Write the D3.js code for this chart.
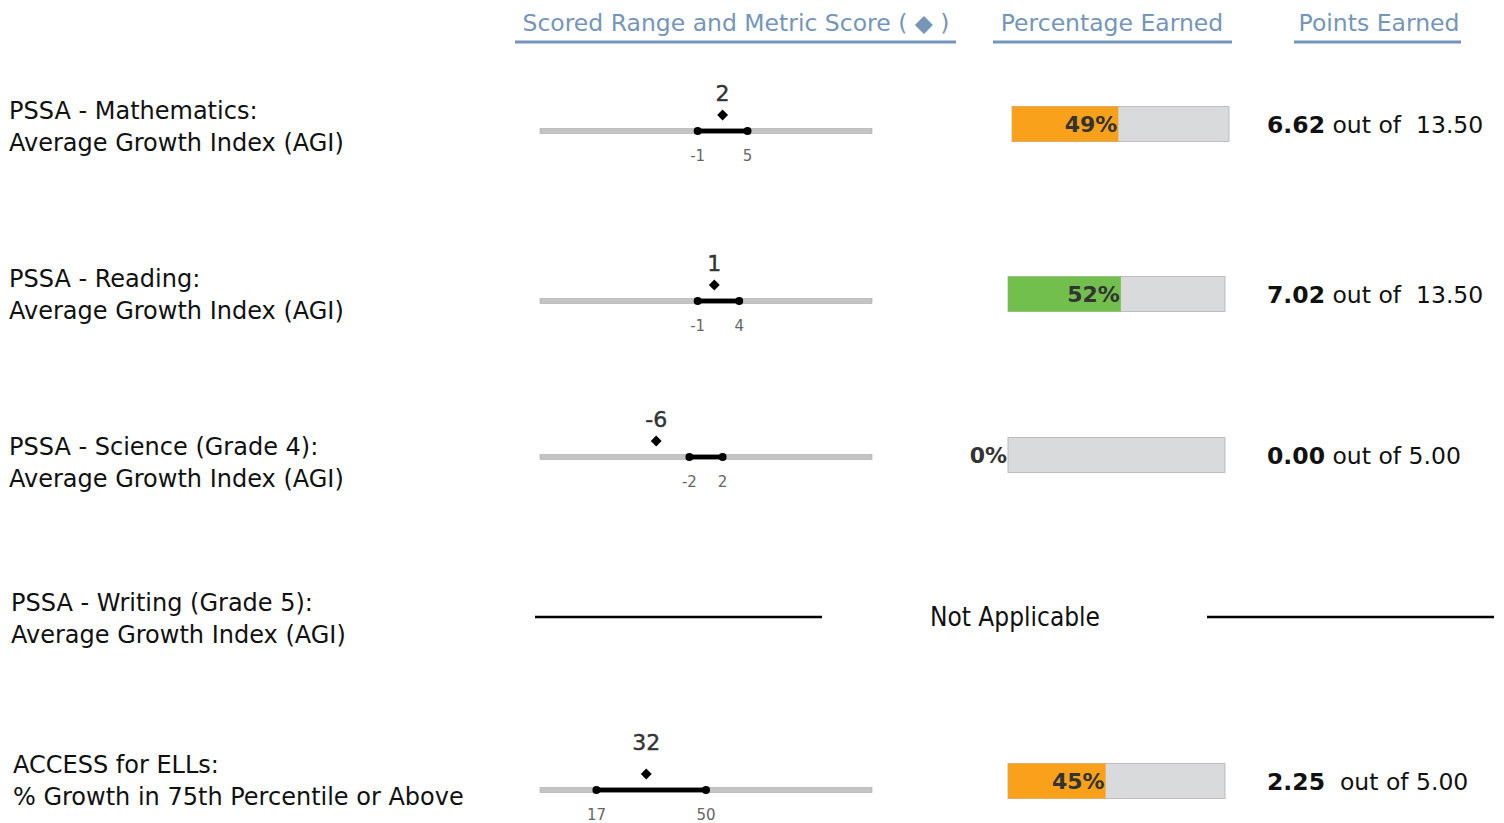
<!DOCTYPE html>
<html>
<head>
<meta charset="utf-8">
<script src="https://cdn.jsdelivr.net/npm/d3@7"></script>
<style>
  body { margin: 0; background: #fff; }
  svg { display: block; }
  .sans { font-family: "DejaVu Sans", sans-serif; }
</style>
</head>
<body>
<svg id="chart"></svg>
<script>
// ---- data ----
const metricNames = [
  ["PSSA - Mathematics:", "Average Growth Index (AGI)"],
  ["PSSA - Reading:", "Average Growth Index (AGI)"],
  ["PSSA - Science (Grade 4):", "Average Growth Index (AGI)"],
  ["PSSA - Writing (Grade 5):", "Average Growth Index (AGI)"],
  ["ACCESS for ELLs:", "% Growth in 75th Percentile or Above"]
]
const applicable = [true, true, true, false, true]
const rangeLow = [-1, -1, -2, null, 17]
const rangeHigh = [5, 4, 2, null, 50]
const metricScore = [2, 1, -6, null, 32]
const scaleDomains = [[-20, 20], [-20, 20], [-20, 20], null, [0, 100]]
const pctEarned = [49, 52, 0, null, 45]
const pctColor = ["#f9a11b", "#72bf4e", "#f9a11b", null, "#f9a11b"]
const pointsEarned = ["6.62", "7.02", "0.00", null, "2.25"]
const pointsPossible = ["13.50", "13.50", "5.00", null, "5.00"]
const headers = ["Scored Range and Metric Score ( \u25C6 )", "Percentage Earned", "Points Earned"]

// ---- layout ----
const W = 1504, H = 823
const conf = {
  rangeX: [540, 872],
  lineY: [131, 301, 457, 617, 790],
  valueDy: [-30, -30, -30, 0, -40],
  labelY: [110, 278, 446, 602, 764],
  labelX: [9, 9, 9, 11, 13],
  barY: [124, 294, 455, 617, 781],
  barX: [1012, 1008, 1008, 1008, 1008],
  barW: 217, barH: 35,
  pointsX: 1267,
  headerColor: "#7596b8"
}

const svg = d3.select("#chart").attr("width", W).attr("height", H)

// headers with underline
const headerPos = [
  {x: 736, x0: 515, x1: 956},
  {x: 1112, x0: 993, x1: 1232},
  {x: 1379, x0: 1294, x1: 1461}
]
const hdr = svg.append("g").selectAll("g").data(headers).enter().append("g")
hdr.append("text")
  .attr("class", "sans")
  .attr("x", (d, i) => headerPos[i].x)
  .attr("y", 31)
  .attr("text-anchor", "middle")
  .attr("font-size", 23.5)
  .attr("fill", conf.headerColor)
  .text(d => d)
hdr.append("line")
  .attr("x1", (d, i) => headerPos[i].x0)
  .attr("x2", (d, i) => headerPos[i].x1)
  .attr("y1", 42).attr("y2", 42)
  .attr("stroke", conf.headerColor)
  .attr("stroke-width", 3)

const rows = svg.append("g").selectAll("g.row")
  .data(d3.range(metricNames.length))
  .enter().append("g").attr("class", "row")

// metric names (two lines)
rows.append("text")
  .attr("class", "sans")
  .attr("font-size", 24)
  .attr("fill", "#111")
  .each(function(i) {
    d3.select(this).selectAll("tspan").data(metricNames[i]).enter().append("tspan")
      .attr("x", conf.labelX[i])
      .attr("y", (d, j) => conf.labelY[i] + 9 + j * 32)
      .text(d => d)
  })

// range charts
rows.filter(i => applicable[i]).each(function(i) {
  const g = d3.select(this)
  const x = d3.scaleLinear().domain(scaleDomains[i]).range(conf.rangeX)
  const y = conf.lineY[i]

  g.append("rect")
    .attr("x", x.range()[0]).attr("y", y - 2.5)
    .attr("width", x.range()[1] - x.range()[0]).attr("height", 5)
    .attr("fill", "#c4c4c4").attr("stroke", "#a8a8a8").attr("stroke-width", 0.6)

  g.append("line")
    .attr("x1", x(rangeLow[i])).attr("x2", x(rangeHigh[i]))
    .attr("y1", y).attr("y2", y)
    .attr("stroke", "#000").attr("stroke-width", 4.5)

  g.selectAll("circle").data([rangeLow[i], rangeHigh[i]]).enter().append("circle")
    .attr("cx", d => x(d)).attr("cy", y).attr("r", 4).attr("fill", "#000")

  g.selectAll("text.tick").data([rangeLow[i], rangeHigh[i]]).enter().append("text")
    .attr("class", "tick sans")
    .attr("x", d => x(d)).attr("y", y + 30)
    .attr("text-anchor", "middle")
    .attr("font-size", 15)
    .attr("fill", "#666")
    .text(d => d)

  g.append("path")
    .attr("d", d3.symbol(d3.symbolDiamond2, 75)())
    .attr("transform", `translate(${x(metricScore[i])},${y - 16})`)
    .attr("fill", "#000")

  g.append("text")
    .attr("class", "sans")
    .attr("x", x(metricScore[i])).attr("y", y + conf.valueDy[i])
    .attr("text-anchor", "middle")
    .attr("font-size", 22)
    .attr("fill", "#333")
    .attr("stroke", "#333").attr("stroke-width", 0.4)
    .text(metricScore[i])
})

// percentage bars
rows.filter(i => applicable[i]).each(function(i) {
  const g = d3.select(this)
  const bx = d3.scaleLinear().domain([0, 100]).range([conf.barX[i], conf.barX[i] + conf.barW])
  const y0 = conf.barY[i] - conf.barH / 2

  g.append("rect")
    .attr("x", bx(0)).attr("y", y0)
    .attr("width", bx(100) - bx(0)).attr("height", conf.barH)
    .attr("fill", "#d9dadc").attr("stroke", "#bdbdbd").attr("stroke-width", 1)
  g.append("rect")
    .attr("x", bx(0)).attr("y", y0)
    .attr("width", bx(pctEarned[i]) - bx(0)).attr("height", conf.barH)
    .attr("fill", pctColor[i])
  g.append("text")
    .attr("class", "sans")
    .attr("x", bx(pctEarned[i]) - 1).attr("y", conf.barY[i] + 8)
    .attr("text-anchor", "end")
    .attr("font-size", 22).attr("font-weight", "bold")
    .attr("fill", "#333")
    .text(pctEarned[i] + "%")

  // points earned
  const t = g.append("text")
    .attr("class", "sans")
    .attr("x", conf.pointsX).attr("y", conf.barY[i] + 9)
    .attr("font-size", 23.5).attr("fill", "#111")
    .attr("xml:space", "preserve")
  t.append("tspan").attr("font-weight", "bold").text(pointsEarned[i])
  t.append("tspan").text((i === 4 ? "  " : " ") + "out of " + (i < 2 ? " " : "") + pointsPossible[i])
})

// not applicable rows
rows.filter(i => !applicable[i]).each(function(i) {
  const g = d3.select(this)
  const y = conf.barY[i]
  g.selectAll("line").data([[535, 822], [1207, 1494]]).enter().append("line")
    .attr("x1", d => d[0]).attr("x2", d => d[1])
    .attr("y1", y).attr("y2", y)
    .attr("stroke", "#000").attr("stroke-width", 2.5)
  g.append("text")
    .attr("x", 1015).attr("y", y + 9)
    .attr("text-anchor", "middle")
    .attr("font-family", "'DejaVu Sans Condensed', sans-serif")
    .attr("font-stretch", "condensed")
    .attr("font-size", 26).attr("fill", "#111")
    .text("Not Applicable")
})
</script>
</body>
</html>
